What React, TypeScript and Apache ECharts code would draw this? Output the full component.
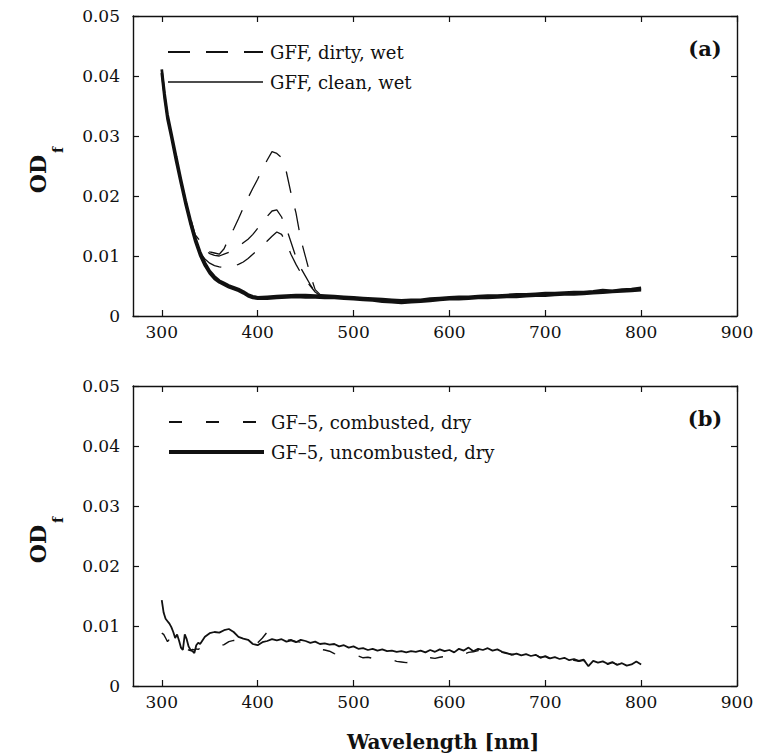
import React, { useEffect, useRef } from "react";
import * as echarts from "echarts";

const FONT = '"DejaVu Serif", "Liberation Serif", serif';

// ---- axis ticks ----
const X_TICKS = [300, 400, 500, 600, 700, 800, 900];

// ---- panel (a): GFF filters, wet ----
const DIRTY = "GFF, dirty, wet";
const CLEAN = "GFF, clean, wet";

const wlClean = [
  300, 303, 306, 310, 315, 320, 325, 330, 335, 340, 345, 350, 355, 360, 365, 370, 375, 380, 385, 390, 395, 400,
  410, 420, 430, 440, 450, 460, 470, 480, 490, 500, 510, 520, 530, 540, 550, 560, 570, 580, 590, 600,
  610, 620, 630, 640, 650, 660, 670, 680, 690, 700, 710, 720, 730, 740, 750, 760, 770, 780, 790, 800,
];
const clean1 = [
  0.0411, 0.037, 0.0336, 0.0305, 0.0266, 0.0228, 0.0192, 0.016, 0.013, 0.0107, 0.0089, 0.0075, 0.0066, 0.0059,
  0.0055, 0.0051, 0.0048, 0.0045, 0.0041, 0.0036, 0.0033, 0.0031,
  0.0032, 0.0033, 0.0034, 0.0035, 0.0035, 0.0034, 0.0034, 0.0033, 0.0032, 0.0031, 0.003, 0.0029, 0.0028, 0.0027,
  0.0026, 0.0027, 0.0027, 0.0029, 0.003, 0.0031, 0.0032, 0.0032, 0.0033, 0.0034, 0.0034, 0.0035, 0.0036, 0.0036,
  0.0037, 0.0038, 0.0038, 0.0039, 0.004, 0.004, 0.0041, 0.0043, 0.0042, 0.0044, 0.0045, 0.0047,
];
const clean2 = [
  0.0405, 0.0362, 0.0328, 0.0298, 0.0258, 0.0221, 0.0185, 0.0153, 0.0124, 0.0101, 0.0084, 0.0071, 0.0062, 0.0056,
  0.0052, 0.0048, 0.0045, 0.0042, 0.0038, 0.0033, 0.003, 0.0029,
  0.0029, 0.003, 0.0031, 0.0032, 0.0031, 0.0031, 0.003, 0.003, 0.0029, 0.0028, 0.0027, 0.0026, 0.0024, 0.0023,
  0.0022, 0.0023, 0.0024, 0.0025, 0.0027, 0.0028, 0.0028, 0.0029, 0.003, 0.003, 0.0031, 0.0032, 0.0032, 0.0033,
  0.0034, 0.0034, 0.0035, 0.0036, 0.0036, 0.0037, 0.0038, 0.0039, 0.004, 0.0041, 0.0042, 0.0043,
];

const wlDirty = [
  300, 303, 306, 310, 315, 320, 325, 330, 335, 340, 345, 350, 355, 360, 365, 370, 375, 380, 385, 390, 395, 400,
  405, 410, 415, 420, 425, 430, 435, 440, 445, 450, 455, 460, 465, 470, 500, 550, 600, 650, 700, 750, 800,
];
const dirty1 = [
  0.0409, 0.0368, 0.0333, 0.0302, 0.0264, 0.0227, 0.0193, 0.0163, 0.0135, 0.0125, 0.0113, 0.0107, 0.0105, 0.0103,
  0.0112, 0.013, 0.0145, 0.0162, 0.018, 0.0197, 0.0213, 0.0228, 0.0245, 0.026, 0.0274, 0.0271, 0.0264, 0.024,
  0.0203, 0.0172, 0.0128, 0.0098, 0.0068, 0.0044, 0.0036, 0.0034, 0.0031, 0.0025, 0.003, 0.0034, 0.0037, 0.0041,
  0.0045,
];
const dirty2 = [
  0.0408, 0.0367, 0.0331, 0.0301, 0.0263, 0.0226, 0.019, 0.0158, 0.0128, 0.0118, 0.011, 0.0104, 0.0101, 0.01,
  0.0103, 0.0106, 0.011, 0.0115, 0.0122, 0.0128, 0.0136, 0.0146, 0.0156, 0.0166, 0.0175, 0.0177, 0.0165, 0.0146,
  0.0122, 0.0098, 0.008, 0.0066, 0.0052, 0.004, 0.0035, 0.0033, 0.003, 0.0024, 0.0029, 0.0033, 0.0036, 0.004,
  0.0044,
];
const dirty3 = [
  0.0407, 0.0366, 0.033, 0.03, 0.0262, 0.0225, 0.0189, 0.0152, 0.0125, 0.0105, 0.0095, 0.0088, 0.0084, 0.0082,
  0.0081, 0.0081, 0.0083, 0.0086, 0.009, 0.0096, 0.0103, 0.011, 0.0117, 0.0125, 0.0133, 0.014, 0.0136, 0.0121,
  0.0102, 0.0086, 0.0072, 0.006, 0.005, 0.004, 0.0034, 0.0033, 0.003, 0.0024, 0.0029, 0.0033, 0.0036, 0.004,
  0.0044,
];

// ---- panel (b): GF-5 filters, dry ----
const COMB = "GF–5, combusted, dry";
const UNCOMB = "GF–5, uncombusted, dry";

const wlGf5 = [
  300, 302, 304, 306, 308, 310, 312, 314, 316, 318, 320, 322, 324, 326, 328, 330, 332, 334, 336, 338, 340,
  345, 350, 355, 360, 365, 370, 375, 380, 385, 390, 395, 400, 405, 410, 415, 420, 425, 430, 435, 440, 445,
  450, 455, 460, 465, 470, 475, 480, 485, 490, 495, 500, 505, 510, 515, 520, 525, 530, 535, 540, 545, 550,
  555, 560, 565, 570, 575, 580, 585, 590, 595, 600, 605, 610, 615, 620, 625, 630, 635, 640, 645, 650, 655,
  660, 665, 670, 675, 680, 685, 690, 695, 700, 705, 710, 715, 720, 725, 730, 735, 740, 745, 750, 755, 760,
  765, 770, 775, 780, 785, 790, 795, 800,
];
const uncombusted = [
  0.0143, 0.0122, 0.0112, 0.0108, 0.0104, 0.0098, 0.009, 0.008, 0.0086, 0.0076, 0.0064, 0.006, 0.0086, 0.0078,
  0.0066, 0.006, 0.0058, 0.0055, 0.0068, 0.0072, 0.007,
  0.0082, 0.0088, 0.009, 0.0089, 0.0093, 0.0095, 0.009, 0.0082, 0.0079, 0.0077, 0.007, 0.0068, 0.0073, 0.0075,
  0.0078, 0.0076, 0.0078, 0.0074, 0.0076, 0.0073, 0.0077, 0.0075, 0.0072, 0.0074, 0.007, 0.0071, 0.0069, 0.007,
  0.0066, 0.0068, 0.0064, 0.0066, 0.0062, 0.0063, 0.006, 0.0062, 0.0059, 0.0061, 0.0058, 0.0059, 0.0057, 0.0058,
  0.0056, 0.0058, 0.0057, 0.0059, 0.0056, 0.006, 0.0057, 0.0061, 0.0058, 0.006, 0.0056, 0.0062, 0.0059, 0.0064,
  0.0058, 0.0062, 0.006, 0.0063, 0.0059, 0.0061, 0.0057, 0.0055, 0.0052, 0.0054, 0.0051, 0.0053, 0.005, 0.0052,
  0.0047, 0.005, 0.0046, 0.0048, 0.0045, 0.0047, 0.0043, 0.0045, 0.0042, 0.0044, 0.0033, 0.0042, 0.0039, 0.0041,
  0.0037, 0.004, 0.0035, 0.0038, 0.0034, 0.0036, 0.0041, 0.0036,
];
const combusted = [
  0.0088, 0.0086, 0.008, 0.0074, 0.0078, 0.0072, 0.0068, 0.0066, 0.0064, 0.0063, 0.0062, 0.0061, 0.006, 0.0062,
  0.006, 0.0059, 0.0061, 0.006, 0.0062, 0.0061, 0.0063,
  0.0061, 0.006, 0.0062, 0.0066, 0.0069, 0.0074, 0.0076, 0.0075, 0.0073, 0.0071, 0.007, 0.0072, 0.008, 0.009,
  0.0085, 0.008, 0.0079, 0.0076, 0.0077, 0.0074, 0.0073, 0.0072, 0.0068, 0.0064, 0.0061, 0.006, 0.0058, 0.0054,
  0.0052, 0.005, 0.0051, 0.0049, 0.005, 0.0047, 0.0048, 0.0046, 0.0044, 0.0045, 0.0043, 0.0044, 0.0041, 0.004,
  0.0039, 0.004, 0.0038, 0.0042, 0.0045, 0.0047, 0.0046, 0.0048, 0.0049, 0.0051, 0.0052, 0.005, 0.0053, 0.0056,
  0.0057, 0.0059, 0.0058, 0.0061, 0.0058, 0.006, 0.0056, 0.0054, 0.0053, 0.0052, 0.005, 0.0052, 0.0049, 0.0051,
  0.0048, 0.0049, 0.0045, 0.0047, 0.0046, 0.0044, 0.0044, 0.0043, 0.0041, 0.0043, 0.0036, 0.004, 0.0038, 0.004,
  0.0036, 0.0039, 0.0036, 0.0037, 0.0035, 0.0037, 0.0039, 0.0035,
];

const pairs = (xs: number[], ys: number[]) => xs.map((x, i) => [x, ys[i]]);

const INK = "#111";
const AXIS_LINE = { show: true, onZero: false, lineStyle: { color: INK, width: 1.4 } };
const TICK_IN = { show: true, inside: true, length: 6, lineStyle: { color: INK, width: 1.2 } };

function xAxes(grid: number) {
  return [
    {
      type: "value",
      gridIndex: grid,
      position: "bottom",
      min: 270,
      max: 900,
      axisLine: AXIS_LINE,
      axisTick: { ...TICK_IN, customValues: X_TICKS },
      axisLabel: { customValues: X_TICKS, fontFamily: FONT, fontSize: 17, color: INK, margin: 7 },
      splitLine: { show: false },
    },
    {
      type: "value",
      gridIndex: grid,
      position: "top",
      min: 270,
      max: 900,
      axisLine: AXIS_LINE,
      axisTick: { ...TICK_IN, customValues: X_TICKS },
      axisLabel: { show: false },
      splitLine: { show: false },
    },
  ];
}

function yAxes(grid: number) {
  const base = { type: "value", gridIndex: grid, min: 0, max: 0.05, interval: 0.01, splitLine: { show: false } };
  return [
    {
      ...base,
      position: "left",
      axisLine: AXIS_LINE,
      axisTick: TICK_IN,
      axisLabel: {
        fontFamily: FONT,
        fontSize: 17,
        color: INK,
        margin: 13,
        formatter: (v: number) => (v === 0 ? "0" : v.toFixed(2)),
      },
    },
    { ...base, position: "right", axisLine: AXIS_LINE, axisTick: TICK_IN, axisLabel: { show: false } },
  ];
}

function line(name: string, data: number[][], xi: number, yi: number, width: number, type: any, z = 2) {
  return {
    type: "line",
    name,
    data,
    xAxisIndex: xi,
    yAxisIndex: yi,
    symbol: "none",
    showSymbol: false,
    silent: true,
    z,
    itemStyle: { color: INK },
    lineStyle: { color: INK, width, type },
  };
}

const legendBase = {
  orient: "vertical",
  left: 167,
  padding: 0,
  itemWidth: 95,
  itemHeight: 20,
  itemGap: 12,
  selectedMode: false,
  itemStyle: { opacity: 0 },
  textStyle: { fontFamily: FONT, fontSize: 18, color: INK, padding: [0, 0, 0, 2] },
};

function text(t: string, x: number, y: number, size: number, bold: boolean, rotation = 0) {
  return {
    type: "text",
    x,
    y,
    rotation,
    silent: true,
    style: {
      text: t,
      fontFamily: FONT,
      fontSize: size,
      fontWeight: bold ? "bold" : "normal",
      fill: INK,
      align: "center",
      verticalAlign: "middle",
    },
  };
}

export default function App() {
  const ref = useRef<HTMLDivElement>(null);

  useEffect(() => {
    if (!ref.current) return;
    const chart = echarts.init(ref.current, undefined, { renderer: "svg" });
    const dash1 = [22, 16];
    const dash2 = [13, 24];
    const hide = { opacity: 0 };
    chart.setOption({
      animation: false,
      backgroundColor: "#fff",
      textStyle: { fontFamily: FONT },
      grid: [
        { left: 133, top: 16, width: 604, height: 300 },
        { left: 133, top: 386, width: 604, height: 300 },
      ],
      xAxis: [...xAxes(0), ...xAxes(1)],
      yAxis: [...yAxes(0), ...yAxes(1)],
      legend: [
        {
          ...legendBase,
          top: 43,
          data: [
            { name: DIRTY, itemStyle: hide },
            { name: CLEAN, itemStyle: hide, lineStyle: { width: 1.5 } },
          ],
        },
        {
          ...legendBase,
          top: 413,
          data: [
            { name: COMB, itemStyle: hide },
            { name: UNCOMB, itemStyle: hide, lineStyle: { width: 4 } },
          ],
        },
      ],
      series: [
        line(DIRTY, pairs(wlDirty, dirty1), 0, 0, 1.3, dash1),
        line(DIRTY, pairs(wlDirty, dirty2), 0, 0, 1.3, dash1),
        line(DIRTY, pairs(wlDirty, dirty3), 0, 0, 1.3, dash1),
        line(CLEAN, pairs(wlClean, clean1), 0, 0, 2.7, "solid", 3),
        line(CLEAN, pairs(wlClean, clean2), 0, 0, 2.7, "solid", 3),
        line(COMB, pairs(wlGf5, combusted), 2, 2, 1.4, dash2),
        line(UNCOMB, pairs(wlGf5, uncombusted), 2, 2, 1.8, "solid", 3),
      ],
      graphic: [
        text("(a)", 705, 48, 21, true),
        text("(b)", 705, 418, 21, true),
        text("OD", 38, 174, 22, true, Math.PI / 2),
        text("f", 58, 150, 14, true, Math.PI / 2),
        text("OD", 38, 544, 22, true, Math.PI / 2),
        text("f", 58, 520, 14, true, Math.PI / 2),
        text("Wavelength [nm]", 443, 742, 20, true),
      ],
    });
    return () => chart.dispose();
  }, []);

  return (
    <div
      ref={ref}
      style={{ position: "fixed", left: 0, top: 0, width: 769, height: 755, background: "#fff" }}
    />
  );
}
